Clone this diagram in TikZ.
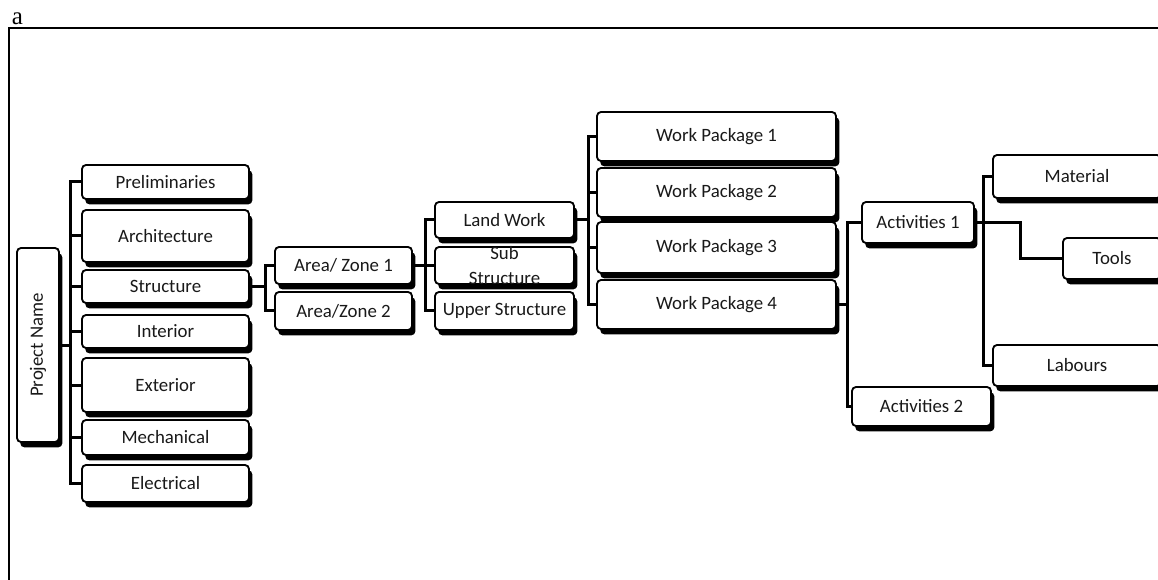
\documentclass[tikz,border=0pt]{standalone}
\usepackage{fontspec}
\setmainfont{Carlito}
\newfontfamily\captionserif{Liberation Serif}
\usetikzlibrary{calc,shadows}
\definecolor{wbsText}{RGB}{25,25,25}
\tikzset{
wbsBox/.style={rounded corners=2.4pt,draw=black,fill=white,line width=1.1pt,inner sep=0pt,align=center,text=wbsText,font=\fontsize{11.3}{13.8}\selectfont,drop shadow={shadow xshift=2pt,shadow yshift=-3.2pt,fill=black,opacity=1}},
wbsSize/.style 2 args={minimum width=#1*0.6pt,minimum height=#2*0.6pt},
wbsLink/.style={line width=1.8pt},
}

\begin{document}
\begin{tikzpicture}[x=0.6pt,y=-0.6pt]
\clip (0,0) rectangle (1158,580);
\node[font=\captionserif\fontsize{15}{15}\selectfont,inner sep=0pt] (figlabel) at (17.5,19) {a};
\draw[line width=0.9pt] (9,585) -- (9,28) -- (1165,28);

\node[wbsBox,wbsSize={42}{194}] (project) at (38,345) {\rotatebox{90}{Project Name}};

\node[wbsBox,wbsSize={167}{34}] (prelim) at (165.5,182) {Preliminaries};
\node[wbsBox,wbsSize={167}{52}] (archi) at (165.5,236) {Architecture};
\node[wbsBox,wbsSize={167}{33}] (struct) at (165.5,286.5) {Structure};
\node[wbsBox,wbsSize={167}{33}] (inter) at (165.5,331.5) {Interior};
\node[wbsBox,wbsSize={167}{54}] (exter) at (165.5,385) {Exterior};
\node[wbsBox,wbsSize={167}{35}] (mecha) at (165.5,437.5) {Mechanical};
\node[wbsBox,wbsSize={167}{37}] (elect) at (165.5,483.5) {Electrical};

\node[wbsBox,wbsSize={137}{37}] (zoneA) at (343.5,265.5) {Area/ Zone 1};
\node[wbsBox,wbsSize={137}{38}] (zoneB) at (343.5,311) {Area/Zone 2};

\node[wbsBox,wbsSize={139}{36}] (land) at (504.5,220) {Land Work};
\node[wbsBox,wbsSize={139}{37},label={[align=center,text=wbsText,font=\fontsize{11.3}{13.8}\selectfont,inner sep=0pt]center:Sub\\[1.6pt]Structure}] (substr) at (504.5,265.5) {};
\node[wbsBox,wbsSize={139}{38}] (upper) at (504.5,311) {Upper Structure};

\node[wbsBox,wbsSize={239}{49}] (pack1) at (716.5,136.5) {Work Package 1};
\node[wbsBox,wbsSize={239}{49}] (pack2) at (716.5,192.5) {Work Package 2};
\node[wbsBox,wbsSize={239}{51}] (pack3) at (716.5,247.5) {Work Package 3};
\node[wbsBox,wbsSize={239}{49}] (pack4) at (716.5,304.5) {Work Package 4};

\node[wbsBox,wbsSize={112}{41}] (activ1) at (918,222.5) {Activities 1};
\node[wbsBox,wbsSize={139}{39}] (activ2) at (921.5,406.5) {Activities 2};

\node[wbsBox,wbsSize={168}{43}] (material) at (1077,176.5) {Material};
\node[wbsBox,wbsSize={98}{41}] (tools) at (1112,258.5) {Tools};
\node[wbsBox,wbsSize={168}{41}] (labour) at (1077,365.5) {Labours};

\draw[wbsLink] (project.east) -- ++(11,0) coordinate (trunkA);
\foreach \n in {prelim,archi,struct,inter,exter,mecha,elect}
  \draw[wbsLink] (trunkA) |- (\n.west);
\draw[wbsLink] (struct.east) -- ++(16,0) coordinate (trunkB);
\foreach \n in {zoneA,zoneB}
  \draw[wbsLink] (trunkB) |- (\n.west);
\draw[wbsLink] (zoneA.east) -- ++(13,0) coordinate (trunkC);
\foreach \n in {land,substr,upper}
  \draw[wbsLink] (trunkC) |- (\n.west);
\draw[wbsLink] (land.east) -- ++(14,0) coordinate (trunkD);
\foreach \n in {pack1,pack2,pack3,pack4}
  \draw[wbsLink] (trunkD) |- (\n.west);
\draw[wbsLink] (pack4.east) -- ++(11,0) coordinate (trunkE);
\foreach \n in {activ1,activ2}
  \draw[wbsLink] (trunkE) |- (\n.west);
\draw[wbsLink] (activ1.east) -- ++(9,0) coordinate (trunkF);
\foreach \n in {material,labour}
  \draw[wbsLink] (trunkF) |- (\n.west);
\draw[wbsLink] (activ1.east) -- ++(46,0) |- (tools.west);
\end{tikzpicture}
\end{document}
